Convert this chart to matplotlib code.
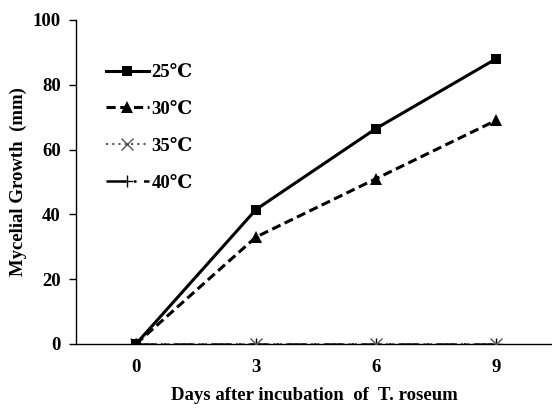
import matplotlib
matplotlib.use("Agg")
import matplotlib.pyplot as plt

days = [0, 3, 6, 9]
labels = ["25℃", "30℃", "35℃", "40℃"]
g25 = [0, 41.5, 66.5, 88]
g30 = [0, 33, 51, 69]
g35 = [0, 0, 0, 0]
g40 = [0, 0, 0, 0]

plt.rcParams['font.family'] = ['Liberation Serif', 'DejaVu Serif']
plt.rcParams['font.weight'] = 'bold'
FS = 13.5

fig = plt.figure(figsize=(5.52, 4.08), dpi=100)
ax = fig.add_axes([0.1377, 0.157, 0.8623, 0.794])

ax.plot(days, g25, color='black', lw=2.2, marker='s', ms=7, mew=0, label=labels[0], zorder=5)
ax.plot(days, g30, color='black', lw=2.2, ls=(0, (3, 1.5)), marker='^', ms=8.5, mew=0, label=labels[1], zorder=4)
ax.plot(days, g35, color='#555555', lw=1.5, ls=(0, (1, 2)), marker='x', ms=8, mew=1.0, label=labels[2], zorder=3)
ax.plot(days, g40, color='black', lw=1.8, ls=(0, (8, 3, 1, 3)), marker='+', ms=8, label=labels[3], zorder=2)

ax.set_xlim(-1.5, 10.4)
ax.set_ylim(0, 100)
ax.set_yticks([0, 20, 40, 60, 80, 100])
ax.set_xticks(days)
ax.tick_params(axis='x', length=0, pad=11, labelsize=FS)
ax.tick_params(axis='y', direction='out', length=5, width=1, labelsize=FS, pad=6)
for t in ax.get_xticklabels() + ax.get_yticklabels():
    t.set_fontweight('bold')
for s in ['top', 'right']:
    ax.spines[s].set_visible(False)
ax.spines['left'].set_linewidth(1)
ax.spines['bottom'].set_linewidth(1)

ax.set_ylabel("Mycelial Growth  (mm)", fontsize=FS, fontweight='bold', labelpad=4)
ax.set_xlabel("Days after incubation  of  T. roseum", fontsize=FS, fontweight='bold', labelpad=8)

leg = ax.legend(loc='upper left', bbox_to_anchor=(0.062, 0.864), frameon=False,
                borderaxespad=0, borderpad=0,
                fontsize=FS, handlelength=2.3, labelspacing=1.05, handletextpad=0.15)

fig.savefig("out.png", dpi=100)
